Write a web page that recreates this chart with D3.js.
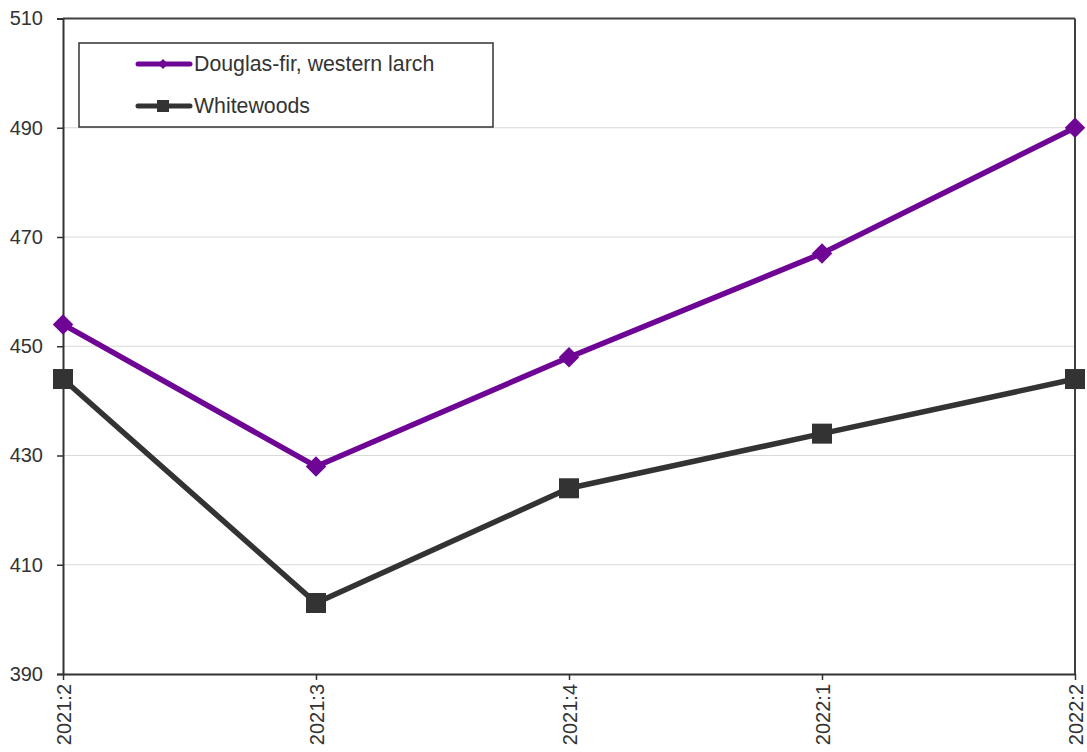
<!DOCTYPE html>
<html><head><meta charset="utf-8">
<script src="https://cdn.jsdelivr.net/npm/d3@7"></script>
<style>body{margin:0;background:#fff}svg{display:block}text{font-family:"Liberation Sans",Arial,sans-serif;fill:#333}</style>
</head><body><svg id="c" width="1087" height="752"></svg>
<script>
const categories = ["2021:2","2021:3","2021:4","2022:1","2022:2"];
const douglasFir = [454, 428, 448, 467, 490];
const whitewoods = [444, 403, 424, 434, 444];
const yTicks = [390, 410, 430, 450, 470, 490, 510];
const seriesNames = ["Douglas-fir, western larch", "Whitewoods"];

const svg = d3.select("#c");
const L = 63, R = 1075, T = 18.5, B = 674;
const x = d3.scalePoint().domain(categories).range([L, R]).padding(0);
const y = d3.scaleLinear().domain([390, 510]).range([B, T]);

// gridlines
svg.append("g").selectAll("line").data(yTicks.filter(v => v > 390 && v < 510)).join("line")
  .attr("x1", L).attr("x2", R).attr("y1", d => y(d)).attr("y2", d => y(d))
  .attr("stroke", "#d9d9d9").attr("stroke-width", 1);

// frame top/right
svg.append("line").attr("x1", L).attr("x2", R).attr("y1", T).attr("y2", T).attr("stroke", "#404040").attr("stroke-width", 2);
svg.append("line").attr("x1", R).attr("x2", R).attr("y1", T).attr("y2", B).attr("stroke", "#404040").attr("stroke-width", 2);

// axes
const yAxis = svg.append("g").attr("transform", `translate(${L},0)`)
  .call(d3.axisLeft(y).tickValues(yTicks).tickSize(6).tickPadding(14));
yAxis.attr("font-size", null).attr("font-family", null);
yAxis.select(".domain").attr("stroke", "#333").attr("stroke-width", 2);
yAxis.selectAll(".tick line").attr("stroke", "#333").attr("stroke-width", 1.5);
yAxis.selectAll("text").style("font-size", "20px").attr("fill", "#333");

const xAxis = svg.append("g").attr("transform", `translate(0,${B})`)
  .call(d3.axisBottom(x).tickSize(6).tickSizeOuter(0));
xAxis.attr("font-size", null).attr("font-family", null);
xAxis.select(".domain").attr("stroke", "#333").attr("stroke-width", 2);
xAxis.selectAll(".tick line").attr("stroke", "#333").attr("stroke-width", 1.5);
xAxis.selectAll("text").style("font-size", "20px").attr("fill", "#333")
  .attr("transform", "rotate(-90)").attr("text-anchor", "end")
  .attr("x", -10).attr("y", 0).attr("dy", "0.35em");

const colors = ["#6f0594", "#333333"];
const line = d3.line().x((d, i) => x(categories[i])).y(d => y(d));
const data = [douglasFir, whitewoods];

data.forEach((s, k) => {
  svg.append("path").datum(s).attr("d", line).attr("fill", "none")
    .attr("stroke", colors[k]).attr("stroke-width", 5.5).attr("stroke-linejoin", "round");
});
// markers
svg.append("g").selectAll("path").data(douglasFir).join("path")
  .attr("d", d3.symbol(d3.symbolSquare, 210)())
  .attr("transform", (d, i) => `translate(${x(categories[i])},${y(d)}) rotate(45)`)
  .attr("fill", colors[0]);
svg.append("g").selectAll("rect").data(whitewoods).join("rect")
  .attr("x", (d, i) => x(categories[i]) - 10).attr("y", d => y(d) - 10)
  .attr("width", 20).attr("height", 20).attr("fill", colors[1]);

// legend
const lg = svg.append("g");
lg.append("rect").attr("x", 79).attr("y", 43).attr("width", 414).attr("height", 84)
  .attr("fill", "#fff").attr("stroke", "#333").attr("stroke-width", 1.5);
const ly = [64, 106];
seriesNames.forEach((n, k) => {
  lg.append("line").attr("x1", 138).attr("x2", 190).attr("y1", ly[k]).attr("y2", ly[k])
    .attr("stroke", colors[k]).attr("stroke-width", 5).attr("stroke-linecap", "round");
  if (k === 0) {
    lg.append("path").attr("d", d3.symbol(d3.symbolSquare, 50)())
      .attr("transform", `translate(163,${ly[k]}) rotate(45)`).attr("fill", colors[0]);
  } else {
    lg.append("rect").attr("x", 157).attr("y", ly[k] - 6).attr("width", 12).attr("height", 12).attr("fill", colors[1]);
  }
  lg.append("text").attr("x", 194).attr("y", ly[k]).attr("dy", "0.35em")
    .style("font-size", "21.3px").text(n);
});
</script></body></html>
